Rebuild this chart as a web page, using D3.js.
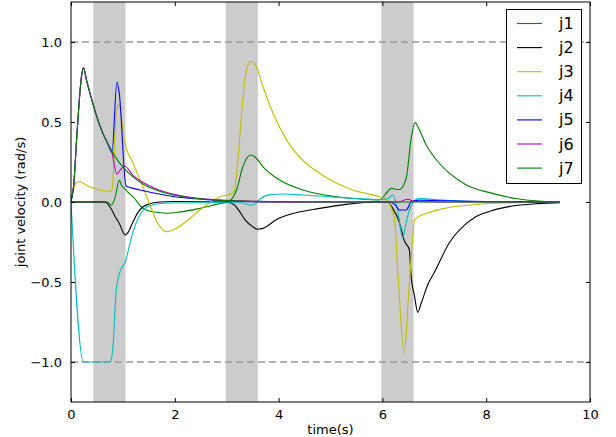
<!DOCTYPE html>
<html><head><meta charset="utf-8">
<script src="https://cdn.jsdelivr.net/npm/d3@7"></script>
<style>body{margin:0;background:#fff;} svg{display:block;font-family:"DejaVu Sans",sans-serif;}</style>
</head><body>
<svg id="c" width="616" height="437"></svg>
<script>
const seriesNames = ["j1","j2","j3","j4","j5","j6","j7"];
const seriesColors = ["#008000","#000000","#bfbf00","#00bfbf","#0000ff","#bf00bf","#008000"];
const xTicks = [0,2,4,6,8,10];
const yTicks = [-1.0,-0.5,0.0,0.5,1.0];
const bands = [[0.43,1.05],[2.98,3.6],[5.98,6.6]];
const refLines = [1.0,-1.0];

const j1 = [[0,0],[0.7,0],[0.78,-0.02],[0.85,0.03],[0.93,0.135],[0.98,0.1],[1.03,0.085],[1.1,0.06],[1.2,0.03],[1.39,-0.04],[1.6,-0.063],[1.84,-0.07],[2.1,-0.062],[2.48,-0.04],[2.8,-0.015],[3.0,0],[3.1,0.02],[3.19,0.075],[3.31,0.22],[3.46,0.294],[3.55,0.28],[3.7,0.22],[4.02,0.137],[4.47,0.075],[5.11,0.033],[5.5,0.02],[5.94,0.0125],[6.1,0.064],[6.17,0.085],[6.25,0.08],[6.33,0.078],[6.46,0.15],[6.55,0.39],[6.63,0.496],[6.7,0.46],[6.84,0.36],[7.0,0.28],[7.29,0.18],[7.6,0.11],[8.12,0.054],[8.6,0.02],[9.08,0.004],[9.42,0]];
const j2 = [[0,0],[0.65,0],[0.75,-0.03],[0.85,-0.09],[0.94,-0.14],[1.04,-0.206],[1.1,-0.19],[1.2,-0.12],[1.3,-0.06],[1.39,-0.03],[1.55,-0.008],[1.71,0.0],[2.0,0.003],[3.0,0.0],[3.15,-0.02],[3.25,-0.06],[3.35,-0.11],[3.5,-0.154],[3.6,-0.17],[3.7,-0.165],[3.96,-0.11],[4.3,-0.07],[4.79,-0.04],[5.3,-0.015],[5.94,0],[6.1,0],[6.2,-0.04],[6.33,-0.13],[6.42,-0.24],[6.52,-0.3],[6.55,-0.45],[6.62,-0.59],[6.68,-0.69],[6.75,-0.63],[6.87,-0.52],[7.0,-0.44],[7.3,-0.25],[7.6,-0.14],[7.8,-0.092],[8.1,-0.055],[8.44,-0.029],[9.0,-0.01],[9.42,-0.004]];
const j3 = [[0,0],[0.05,0.08],[0.1,0.12],[0.17,0.128],[0.3,0.105],[0.45,0.085],[0.6,0.072],[0.77,0.067],[0.8,0.1],[0.87,0.55],[0.93,0.61],[1.0,0.45],[1.04,0.37],[1.2,0.24],[1.35,0.12],[1.5,0.0],[1.65,-0.12],[1.84,-0.185],[2.0,-0.17],[2.3,-0.1],[2.6,-0.02],[2.87,0.033],[3.12,0.055],[3.15,0.075],[3.22,0.28],[3.31,0.64],[3.38,0.825],[3.47,0.88],[3.57,0.846],[3.7,0.72],[3.9,0.55],[4.15,0.39],[4.5,0.25],[4.79,0.18],[5.1,0.12],[5.43,0.075],[5.94,0.033],[6.07,0.017],[6.23,-0.1],[6.3,-0.45],[6.42,-0.946],[6.5,-0.6],[6.58,-0.24],[6.62,-0.11],[6.9,-0.065],[7.2,-0.04],[7.8,-0.015],[8.5,-0.005],[9.42,0]];
const j4 = [[0,0],[0.24,-1.0],[0.74,-1.0],[0.78,-0.98],[0.81,-0.9],[0.865,-0.58],[0.93,-0.45],[1.0,-0.40],[1.05,-0.37],[1.12,-0.28],[1.2,-0.18],[1.33,-0.08],[1.5,-0.025],[1.84,-0.006],[2.5,-0.005],[3.3,-0.005],[3.4,-0.015],[3.47,-0.02],[3.55,-0.01],[3.65,0.02],[3.83,0.046],[4.1,0.05],[4.47,0.044],[5.0,0.032],[5.5,0.022],[5.94,0.015],[6.1,0.02],[6.2,0.044],[6.3,-0.06],[6.39,-0.225],[6.45,-0.14],[6.52,-0.05],[6.6,0.0],[6.71,0.023],[7.0,0.015],[7.5,0.006],[8,0.002],[9.42,0]];
const j5 = [[0,0],[0.05,0.1],[0.12,0.45],[0.2,0.78],[0.24,0.84],[0.3,0.76],[0.4,0.64],[0.5,0.53],[0.6,0.44],[0.7,0.37],[0.79,0.31],[0.885,0.75],[0.93,0.68],[1.06,0.1],[1.2,0.085],[1.4,0.07],[1.7,0.05],[2.0,0.033],[2.4,0.02],[2.8,0.01],[3.3,0.004],[4,0],[6.15,0],[6.25,-0.02],[6.33,-0.05],[6.46,-0.05],[6.55,0],[6.7,0.012],[7.2,0.008],[8,0.003],[9.42,0]];
const j6 = [[0,0],[0.05,0.1],[0.12,0.45],[0.2,0.78],[0.24,0.84],[0.3,0.76],[0.4,0.64],[0.5,0.53],[0.6,0.44],[0.7,0.37],[0.78,0.32],[0.885,0.175],[0.95,0.2],[1.03,0.225],[1.2,0.165],[1.4,0.12],[1.6,0.088],[1.8,0.064],[2.0,0.046],[2.3,0.03],[2.6,0.019],[3,0.01],[3.5,0.004],[4.5,0],[6.3,0],[6.49,0.017],[6.6,0.005],[7,0],[9.42,0]];
const j7 = [[0,0],[0.05,0.1],[0.12,0.45],[0.2,0.78],[0.24,0.84],[0.3,0.76],[0.4,0.64],[0.5,0.53],[0.6,0.44],[0.7,0.37],[0.8,0.31],[0.9,0.26],[1.0,0.22],[1.2,0.155],[1.4,0.11],[1.6,0.08],[1.8,0.058],[2.0,0.042],[2.3,0.027],[2.6,0.017],[3.0,0.009],[3.5,0.004],[4,0.002],[5,0],[9.42,0]];
const seriesData = [j1,j2,j3,j4,j5,j6,j7];

const L = 71, R = 590, T = 2, B = 402;
const svg = d3.select("#c");
const x = d3.scaleLinear().domain([0,10]).range([L,R]);
const y = d3.scaleLinear().domain([-1.25,1.25]).range([B,T]);

// bands
svg.append("g").selectAll("rect").data(bands).join("rect")
  .attr("x", d => x(d[0])).attr("y", T)
  .attr("width", d => x(d[1]) - x(d[0])).attr("height", B - T)
  .attr("fill", "#cccccc");

// dashed reference lines
svg.append("g").selectAll("line").data(refLines).join("line")
  .attr("x1", L).attr("x2", R).attr("y1", d => y(d)).attr("y2", d => y(d))
  .attr("stroke", "#999").attr("stroke-width", 1.5).attr("stroke-dasharray", "7,4");

// lines
const clip = svg.append("clipPath").attr("id","clp").append("rect")
  .attr("x", L).attr("y", T).attr("width", R-L).attr("height", B-T);
const line = d3.line().x(d => x(d[0])).y(d => y(d[1])).curve(d3.curveMonotoneX);
svg.append("g").attr("clip-path","url(#clp)").selectAll("path").data(seriesData).join("path")
  .attr("d", line).attr("fill","none")
  .attr("stroke", (d,i) => seriesColors[i]).attr("stroke-width", 1.1);

// axes (ticks inside, all 4 sides)
const fmtY = d => d3.format(".1f")(d).replace("-", "\u2212");
svg.append("g").attr("transform",`translate(0,${B})`)
  .call(d3.axisBottom(x).tickValues(xTicks).tickSizeInner(-4).tickSizeOuter(0).tickPadding(8).tickFormat(d3.format("d")))
  .call(g => { g.select(".domain").remove(); g.selectAll("text").attr("font-size",13).attr("font-family","DejaVu Sans").attr("fill","#000"); });
svg.append("g").attr("transform",`translate(0,${T})`)
  .call(d3.axisTop(x).tickValues(xTicks).tickSizeInner(-4).tickSizeOuter(0).tickFormat(""))
  .call(g => g.select(".domain").remove());
svg.append("g").attr("transform",`translate(${L},0)`)
  .call(d3.axisLeft(y).tickValues(yTicks).tickSizeInner(-4).tickSizeOuter(0).tickPadding(9).tickFormat(fmtY))
  .call(g => { g.select(".domain").remove(); g.selectAll("text").attr("font-size",13).attr("font-family","DejaVu Sans").attr("fill","#000"); });
svg.append("g").attr("transform",`translate(${R},0)`)
  .call(d3.axisRight(y).tickValues(yTicks).tickSizeInner(-4).tickSizeOuter(0).tickFormat(""))
  .call(g => g.select(".domain").remove());

svg.append("rect").attr("x", L).attr("y", T).attr("width", R-L).attr("height", B-T)
  .attr("fill","none").attr("stroke","#000").attr("stroke-width",1);

// axis labels
svg.append("text").attr("x", (L+R)/2).attr("y", 434).attr("text-anchor","middle")
  .attr("font-size",13).text("time(s)");
svg.append("text").attr("transform",`translate(25,${(T+B)/2}) rotate(-90)`).attr("text-anchor","middle")
  .attr("font-size",13).text("joint velocity (rad/s)");

// legend
const lg = svg.append("g");
lg.append("rect").attr("x",506.5).attr("y",9.5).attr("width",75).attr("height",174)
  .attr("fill","#fff").attr("stroke","#000").attr("stroke-width",1);
const rows = lg.selectAll("g.r").data(seriesNames).join("g").attr("class","r")
  .attr("transform",(d,i)=>`translate(0,${23.5 + i*24.1})`);
rows.append("line").attr("x1",517).attr("x2",542).attr("y1",0).attr("y2",0)
  .attr("stroke",(d,i)=>seriesColors[i]).attr("stroke-width",1.1);
rows.append("text").attr("x",559).attr("y",5.5).attr("font-size",16).text(d=>d);
</script>
</body></html>
